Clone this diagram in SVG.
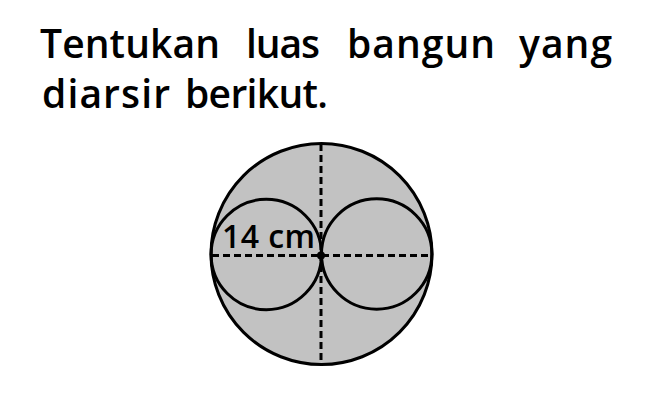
<svg xmlns="http://www.w3.org/2000/svg" width="667" height="405" viewBox="0 0 667 405">
  <style>
    .t { font-family: "Open Sans", "Noto Sans", "DejaVu Sans", sans-serif; font-size: 39px; font-weight: 600; fill: #000; }
    .lbl { font-family: "Open Sans", "Noto Sans", "DejaVu Sans", sans-serif; font-size: 32px; font-weight: 600; fill: #000; }
    .edge { fill: none; stroke: #000; stroke-width: 3; }
    .dash { fill: none; stroke: #000; stroke-width: 3; stroke-dasharray: 7 4; }
  </style>
  <rect width="667" height="405" fill="#fff"/>
  <g id="question">
    <text class="t" y="58" x="40" textLength="180" lengthAdjust="spacing">Tentukan</text>
    <text class="t" y="58" x="246" textLength="74" lengthAdjust="spacing">luas</text>
    <text class="t" y="58" x="347" textLength="148" lengthAdjust="spacing">bangun</text>
    <text class="t" y="58" x="519" textLength="93" lengthAdjust="spacing">yang</text>
    <text class="t" y="108" x="42" textLength="128" lengthAdjust="spacing">diarsir</text>
    <text class="t" y="108" x="185" textLength="143" lengthAdjust="spacing">berikut.</text>
  </g>
  <g id="big-circle">
    <circle cx="321.5" cy="254" r="110.5" fill="#c2c2c2"/>
  </g>
  <g id="left-circle">
    <circle class="edge" cx="266.3" cy="254.5" r="55.2" fill="#fff"/>
  </g>
  <g id="right-circle">
    <circle class="edge" cx="376.7" cy="254" r="55.2" fill="#fff"/>
  </g>
  <g id="big-circle-outline">
    <circle class="edge" cx="321.5" cy="254" r="110.5"/>
  </g>
  <g id="connectors">
    <line class="dash" x1="212" y1="255.5" x2="431" y2="255.5"/>
    <line class="dash" x1="321" y1="144" x2="321" y2="364"/>
  </g>
  <g id="center">
    <circle cx="321" cy="255.5" r="4" fill="#000"/>
  </g>
  <g id="label">
    <text class="lbl" x="222" y="248" textLength="93" lengthAdjust="spacing">14 cm</text>
  </g>
</svg>
